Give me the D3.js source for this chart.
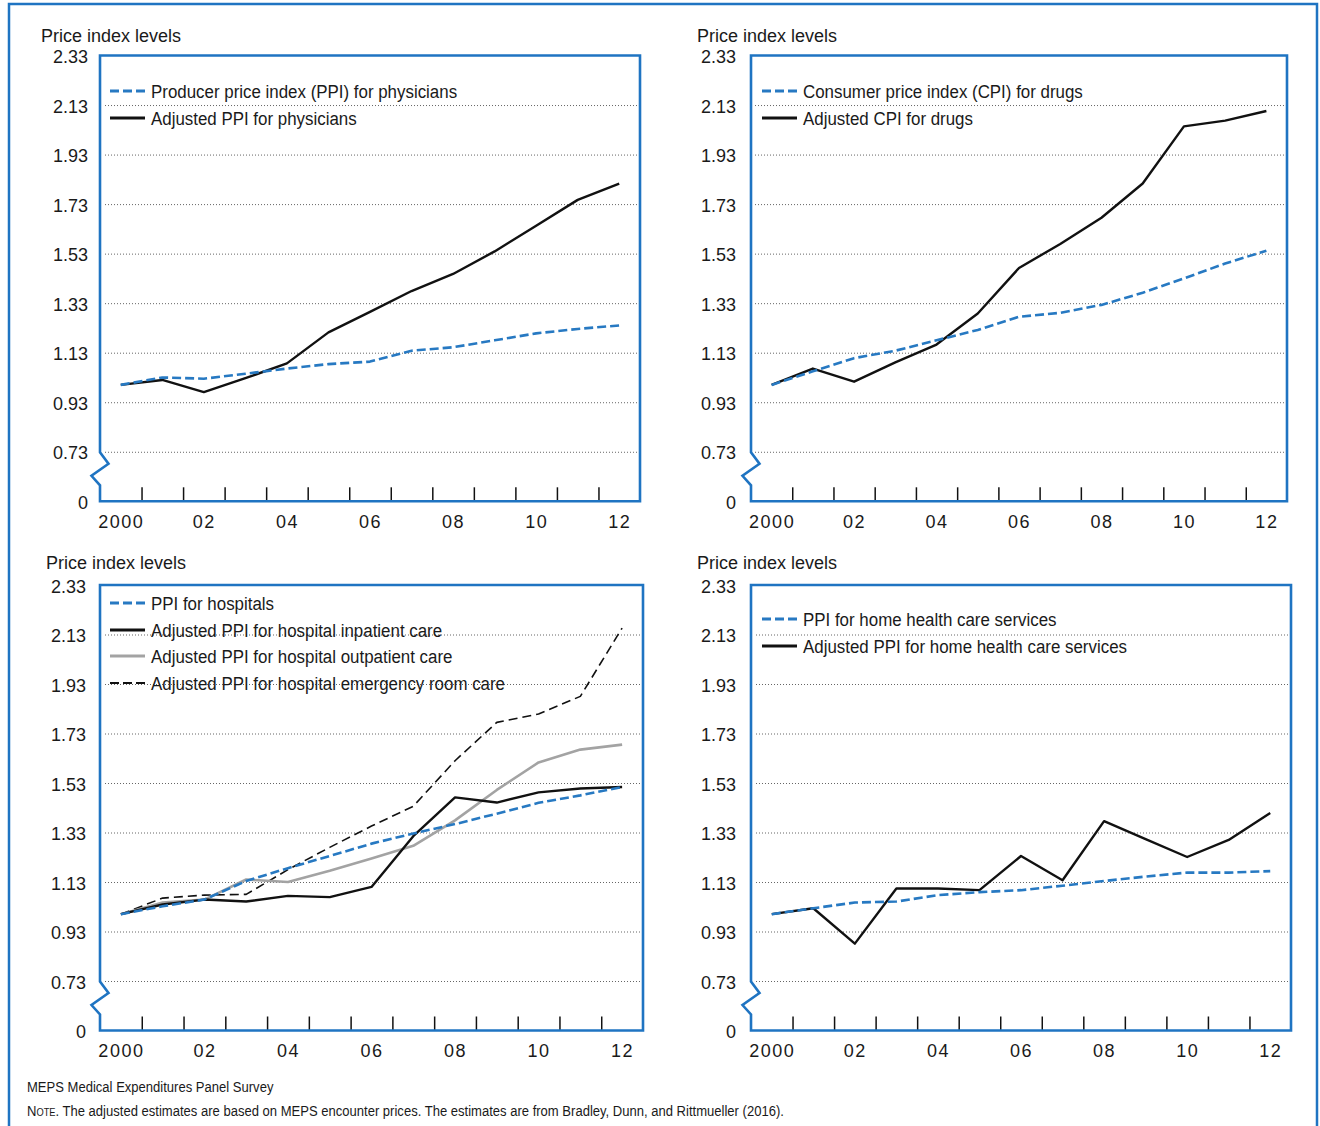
<!DOCTYPE html>
<html>
<head>
<meta charset="utf-8">
<script src="https://cdn.jsdelivr.net/npm/d3@7"></script>
<style>
  body { margin: 0; background: #fff; }
  svg { display: block; }
  .tick text { font-family: "Liberation Sans", Arial, sans-serif; fill: #1a1a1a; }
</style>
</head>
<body>
<div id="chart-area"></div>
<script>
//Data
var years = [2000, 2001, 2002, 2003, 2004, 2005, 2006, 2007, 2008, 2009, 2010, 2011, 2012];
var xLabelYears = [2000, 2002, 2004, 2006, 2008, 2010, 2012];
var xLabels = ['2000', '02', '04', '06', '08', '10', '12'];
var yTicks = [0.53, 0.73, 0.93, 1.13, 1.33, 1.53, 1.73, 1.93, 2.13, 2.33];
var yLabels = ['0', '0.73', '0.93', '1.13', '1.33', '1.53', '1.73', '1.93', '2.13', '2.33'];
var gridTicks = [0.73, 0.93, 1.13, 1.33, 1.53, 1.73, 1.93, 2.13];

var physPPI = [1.00, 1.03, 1.025, 1.045, 1.066, 1.084, 1.094, 1.138, 1.152, 1.180, 1.208, 1.226, 1.240];
var physAdj = [1.00, 1.02, 0.971, 1.027, 1.087, 1.212, 1.295, 1.379, 1.448, 1.539, 1.643, 1.747, 1.813];

var drugCPI = [1.00, 1.055, 1.108, 1.138, 1.180, 1.222, 1.275, 1.291, 1.323, 1.372, 1.430, 1.490, 1.542];
var drugAdj = [1.00, 1.066, 1.013, 1.091, 1.163, 1.288, 1.472, 1.569, 1.675, 1.813, 2.044, 2.067, 2.106];

var hospPPI = [1.00, 1.032, 1.059, 1.134, 1.186, 1.235, 1.285, 1.326, 1.364, 1.406, 1.450, 1.480, 1.514];
var hospInpatient = [1.00, 1.039, 1.059, 1.051, 1.074, 1.069, 1.110, 1.315, 1.472, 1.451, 1.492, 1.508, 1.514];
var hospOutpatient = [1.00, 1.047, 1.059, 1.140, 1.130, 1.175, 1.225, 1.276, 1.379, 1.502, 1.613, 1.665, 1.685];
var hospER = [1.00, 1.065, 1.077, 1.080, 1.180, 1.270, 1.356, 1.436, 1.620, 1.775, 1.809, 1.880, 2.156];

var homePPI = [1.00, 1.024, 1.047, 1.051, 1.077, 1.089, 1.097, 1.115, 1.134, 1.152, 1.168, 1.168, 1.174];
var homeAdj = [1.00, 1.024, 0.881, 1.104, 1.104, 1.097, 1.235, 1.137, 1.376, 1.303, 1.231, 1.300, 1.409];

//Line styles
var styles = {
    bluedash: {stroke: '#2779c2', width: 2.6, dash: '9,4'},
    black: {stroke: '#111', width: 2.4, dash: null},
    gray: {stroke: '#a3a3a3', width: 2.6, dash: null},
    blackdash: {stroke: '#111', width: 1.6, dash: '9,5'}
};

var blue = '#1f74c2';
var narrowFont = '"Liberation Sans", Arial, sans-serif';

//Panels
var panels = [
    {x0: 100, x1: 640, y0: 55.5, y1: 501.3, titleX: 41, titleY: 42, pad: 12, legX: 110, legY: [91, 118],
     series: [
        {name: 'Producer price index (PPI) for physicians', values: physPPI, style: 'bluedash'},
        {name: 'Adjusted PPI for physicians', values: physAdj, style: 'black'}]},
    {x0: 751, x1: 1287, y0: 55.5, y1: 501.3, titleX: 697, titleY: 42, pad: 15, legX: 762, legY: [91, 118],
     series: [
        {name: 'Consumer price index (CPI) for drugs', values: drugCPI, style: 'bluedash'},
        {name: 'Adjusted CPI for drugs', values: drugAdj, style: 'black'}]},
    {x0: 100, x1: 643, y0: 585, y1: 1030.5, titleX: 46, titleY: 569, pad: 14, legX: 110, legY: [603, 630, 656, 683],
     series: [
        {name: 'PPI for hospitals', values: hospPPI, style: 'bluedash'},
        {name: 'Adjusted PPI for hospital inpatient care', values: hospInpatient, style: 'black'},
        {name: 'Adjusted PPI for hospital outpatient care', values: hospOutpatient, style: 'gray'},
        {name: 'Adjusted PPI for hospital emergency room care', values: hospER, style: 'blackdash'}]},
    {x0: 751, x1: 1291, y0: 585, y1: 1030.5, titleX: 697, titleY: 569, pad: 15, legX: 762, legY: [619, 646],
     series: [
        {name: 'PPI for home health care services', values: homePPI, style: 'bluedash'},
        {name: 'Adjusted PPI for home health care services', values: homeAdj, style: 'black'}]}
];

//SVG
var svg = d3.select('#chart-area')
    .append('svg')
        .attr('width', 1320)
        .attr('height', 1126);

//Outer frame (open at the bottom)
svg.append('path')
    .attr('d', 'M9,1130 L9,4 L1317,4 L1317,1130')
    .attr('fill', 'none')
    .attr('stroke', blue)
    .attr('stroke-width', 2.5);

panels.forEach(function(p){
    var g = svg.append('g');

    var x = d3.scaleLinear()
        .domain([1999.5, 2012.5])
        .range([p.x0, p.x1]);

    var y = d3.scaleLinear()
        .domain([0.53, 2.33])
        .range([p.y1, p.y0]);

    //Grid
    g.append('g')
        .attr('transform', 'translate(' + p.x1 + ',0)')
        .call(d3.axisLeft(y).tickValues(gridTicks).tickSize(p.x1 - p.x0 - 3).tickFormat(''))
        .call(function(s){
            s.select('.domain').remove();
            s.selectAll('line')
                .attr('stroke', '#666')
                .attr('stroke-width', 1)
                .attr('stroke-dasharray', '1,2');
        });

    //Y Axis labels
    g.append('g')
        .attr('transform', 'translate(' + p.x0 + ',0)')
        .call(d3.axisLeft(y).tickValues(yTicks).tickSize(0).tickPadding(p.pad)
            .tickFormat(function(d, i){ return yLabels[i]; }))
        .call(function(s){
            s.select('.domain').remove();
            s.selectAll('text').attr('font-size', '18px').attr('dy', '0.4em');
        });

    //X Axis ticks (between years)
    g.append('g')
        .attr('transform', 'translate(0,' + p.y1 + ')')
        .call(d3.axisBottom(x).tickValues(years.slice(0, -1).map(function(d){ return d + 0.5; }))
            .tickSize(-14).tickFormat(''))
        .call(function(s){
            s.select('.domain').remove();
            s.selectAll('line').attr('stroke', '#111').attr('stroke-width', 1.5);
        });

    //X Axis labels
    g.append('g')
        .attr('transform', 'translate(0,' + p.y1 + ')')
        .call(d3.axisBottom(x).tickValues(xLabelYears).tickSize(0).tickPadding(14)
            .tickFormat(function(d, i){ return xLabels[i]; }))
        .call(function(s){
            s.select('.domain').remove();
            s.selectAll('text').attr('font-size', '18px').attr('letter-spacing', '1.5px');
        });

    //Title
    g.append('text')
        .attr('x', p.titleX)
        .attr('y', p.titleY)
        .attr('font-family', '"Liberation Sans", Arial, sans-serif')
        .attr('font-size', '18px')
        .attr('fill', '#1a1a1a')
        .text('Price index levels');

    //Lines
    var line = d3.line()
        .x(function(d, i){ return x(years[i]); })
        .y(function(d){ return y(d); });

    p.series.slice().reverse().forEach(function(s){
        var st = styles[s.style];
        g.append('path')
            .datum(s.values)
            .attr('d', line)
            .attr('fill', 'none')
            .attr('stroke', st.stroke)
            .attr('stroke-width', st.width)
            .attr('stroke-dasharray', st.dash)
            .attr('stroke-linejoin', 'round');
    });

    //Legend
    p.series.forEach(function(s, i){
        var st = styles[s.style];
        g.append('line')
            .attr('x1', p.legX)
            .attr('x2', p.legX + 35)
            .attr('y1', p.legY[i])
            .attr('y2', p.legY[i])
            .attr('stroke', st.stroke)
            .attr('stroke-width', st.width + 0.4)
            .attr('stroke-dasharray', st.dash ? '9,4' : null);
        // condensed type, as in the original
        g.append('text')
            .attr('transform', 'translate(' + (p.legX + 41) + ',' + p.legY[i] + ') scale(0.89,1)')
            .attr('dy', '0.36em')
            .attr('font-family', narrowFont)
            .attr('font-size', '19px')
            .attr('fill', '#1a1a1a')
            .text(s.name);
    });

    //Plot frame with axis break
    var b = p.y1;
    g.append('path')
        .attr('d', 'M' + p.x0 + ',' + (b - 49) +
            ' L' + p.x0 + ',' + p.y0 +
            ' L' + p.x1 + ',' + p.y0 +
            ' L' + p.x1 + ',' + b +
            ' L' + p.x0 + ',' + b +
            ' L' + p.x0 + ',' + (b - 16) +
            ' L' + (p.x0 - 8.5) + ',' + (b - 25.5) +
            ' L' + (p.x0 + 8.5) + ',' + (b - 37.5) +
            ' Z')
        .attr('fill', 'none')
        .attr('stroke', blue)
        .attr('stroke-width', 2.6)
        .attr('stroke-linejoin', 'miter');
});

//Notes
svg.append('text')
    .attr('transform', 'translate(27,1092) scale(0.87,1)')
    .attr('font-family', narrowFont)
    .attr('font-size', '15px')
    .attr('fill', '#1a1a1a')
    .text('MEPS Medical Expenditures Panel Survey');

var note = svg.append('text')
    .attr('transform', 'translate(27,1116) scale(0.87,1)')
    .attr('font-family', narrowFont)
    .attr('font-size', '15px')
    .attr('fill', '#1a1a1a');
note.append('tspan').attr('font-variant', 'small-caps').text('Note');
note.append('tspan').text('. The adjusted estimates are based on MEPS encounter prices. The estimates are from Bradley, Dunn, and Rittmueller (2016).');
</script>
</body>
</html>
